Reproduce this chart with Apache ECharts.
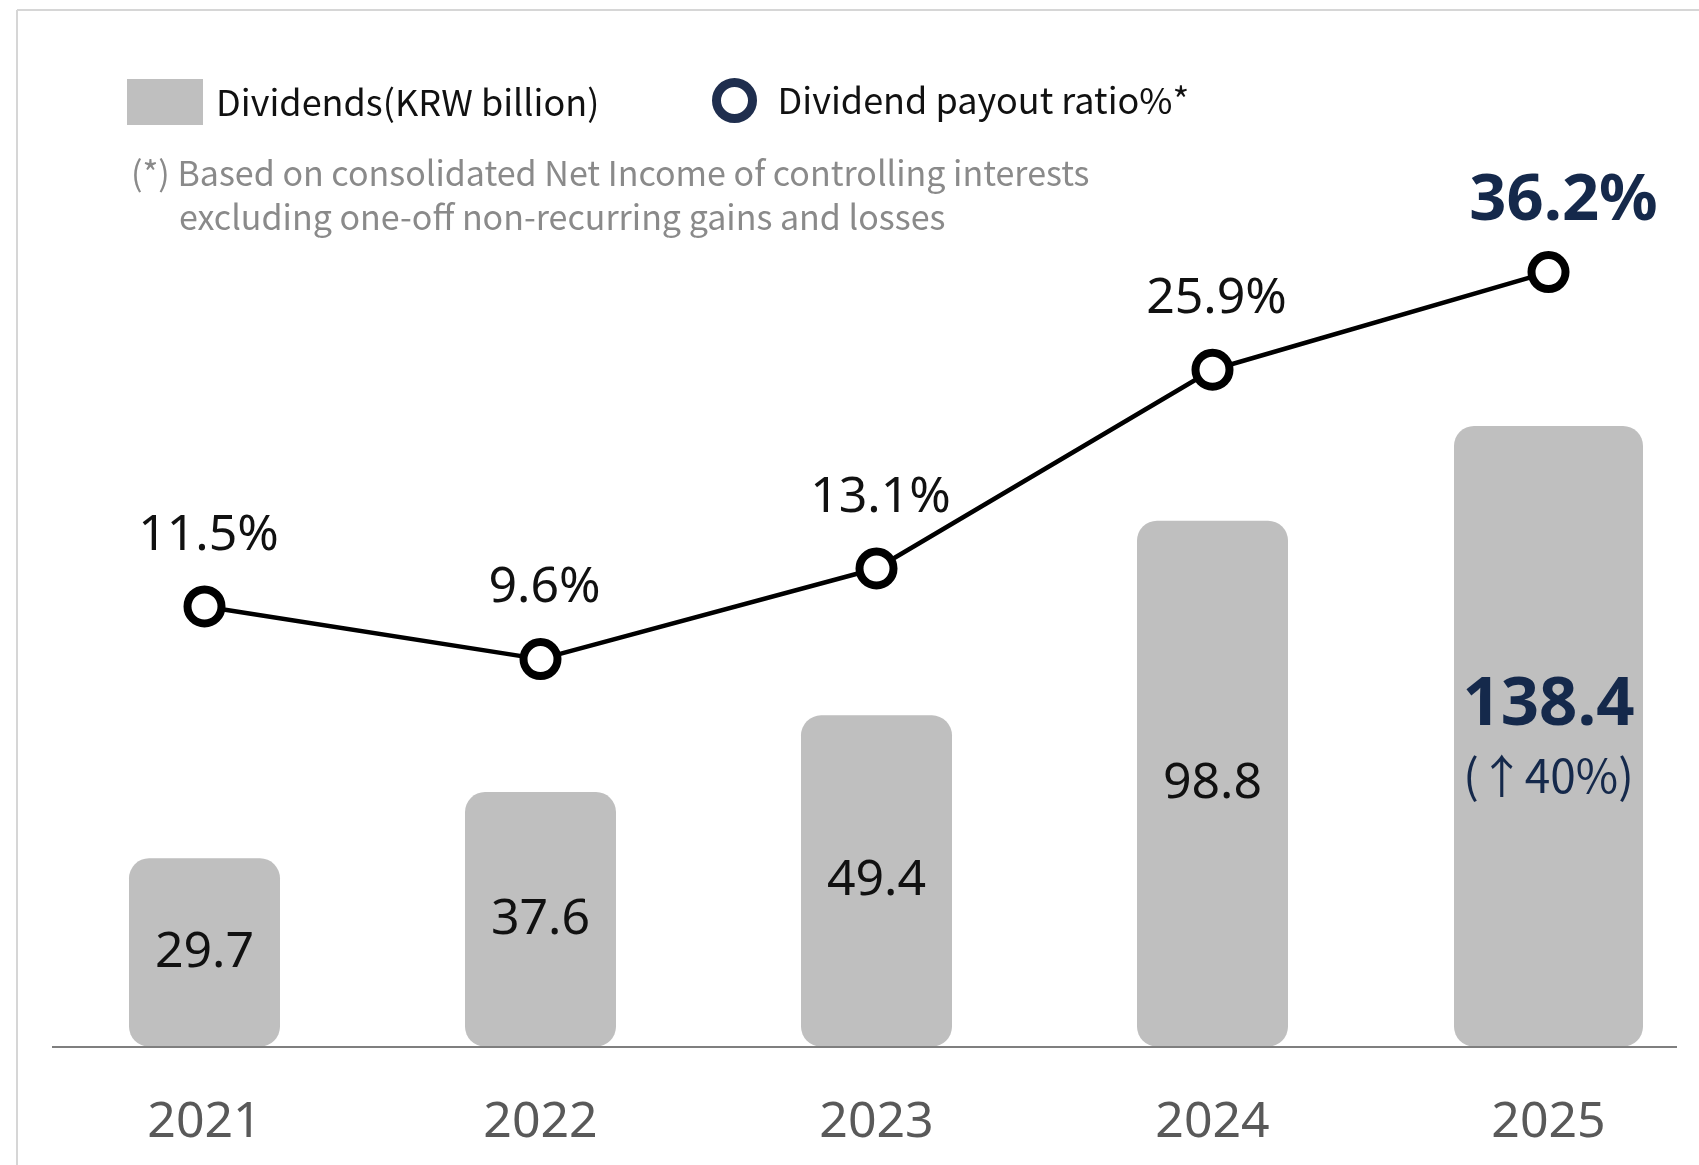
<!DOCTYPE html>
<html>
<head>
<meta charset="utf-8">
<script src="https://cdn.jsdelivr.net/npm/echarts@6/dist/echarts.min.js"></script>
<style>
html,body{margin:0;padding:0;background:#fff;}
#c{width:1699px;height:1165px;}
</style>
</head>
<body>
<div id="c"></div>
<script>
// ---- data ----
const years = ['2021', '2022', '2023', '2024', '2025'];
const dividends = [29.7, 37.6, 49.4, 98.8, 138.4];
const payoutRatio = [11.5, 9.6, 13.1, 25.9, 36.2];
const latestGrowth = '↑40%';
const legendNames = ['Dividends(KRW billion)', 'Dividend payout ratio%*'];
const footnote = [
  '(*) Based on consolidated Net Income of controlling interests',
  'excluding one-off non-recurring gains and losses'
];

// ---- styling ----
const last = years.length - 1;
const NAVY = '#15294b';
const BAR = '#bfbfbf';
const NUM_FONT = '"Noto Sans", sans-serif';
const TXT_FONT = '"Noto Sans CJK KR", "Noto Sans", sans-serif';

const chart = echarts.init(document.getElementById('c'), null, { renderer: 'canvas' });

const option = {
  backgroundColor: '#ffffff',
  animation: false,
  title: [
    { text: footnote[0], left: 131, top: 156, padding: 0,
      textStyle: { fontFamily: TXT_FONT, fontSize: 34, fontWeight: 'normal', color: '#8a8a8a' } },
    { text: footnote[1], left: 179, top: 200, padding: 0,
      textStyle: { fontFamily: TXT_FONT, fontSize: 34, fontWeight: 'normal', color: '#8a8a8a' } }
  ],
  legend: [
    { selectedMode: false, left: 127, top: 79, padding: 0, itemWidth: 76, itemHeight: 46,
      data: [{ name: legendNames[0], icon: 'rect', itemStyle: { color: BAR, borderWidth: 0 } }],
      textStyle: { fontFamily: TXT_FONT, fontSize: 36, color: '#111', padding: [0, 0, 0, 8] } },
    { selectedMode: false, left: 712, top: 78, padding: 0, itemWidth: 36, itemHeight: 36,
      data: [{ name: legendNames[1], icon: 'circle',
               itemStyle: { color: '#fff', borderColor: '#1f2e4e', borderWidth: 9 } }],
      textStyle: { fontFamily: TXT_FONT, fontSize: 36, color: '#111', padding: [0, 0, 0, 20] } }
  ],
  grid: { left: 36.5, right: -17.5, top: 150, bottom: 118.5, outerBoundsMode: 'none' },
  xAxis: [
    { type: 'category', data: years, axisLine: { show: false }, axisTick: { show: false },
      splitLine: { show: false },
      axisLabel: { fontFamily: NUM_FONT, fontSize: 50, color: '#595959', margin: 51 } },
    { type: 'category', data: years, show: false, gridIndex: 0 }
  ],
  yAxis: [
    { type: 'log', logBase: 10, min: 15.2, max: 369.6, startValue: 15.2, show: false,
      splitLine: { show: false } },
    { type: 'log', logBase: 10, min: 2.5425, max: 55.03, show: false,
      splitLine: { show: false } }
  ],
  graphic: [
    { type: 'line', silent: true, shape: { x1: 17, y1: 10, x2: 1699, y2: 10 },
      style: { stroke: '#d6d6d6', lineWidth: 2 } },
    { type: 'line', silent: true, shape: { x1: 17, y1: 10, x2: 17, y2: 1165 },
      style: { stroke: '#d6d6d6', lineWidth: 2 } },
    { type: 'line', silent: true, z: 100, shape: { x1: 52, y1: 1047, x2: 1677, y2: 1047 },
      style: { stroke: '#7f7f7f', lineWidth: 2 } }
  ],
  series: [
    { name: legendNames[0], type: 'bar', xAxisIndex: 0, yAxisIndex: 0, barWidth: 151,
      data: dividends.map((v, i) => (i < last ? v : '-')),
      itemStyle: { color: BAR, borderRadius: 20 },
      label: { show: true, position: 'inside', fontFamily: NUM_FONT, fontSize: 50, color: '#111' },
      z: 2 },
    { name: legendNames[0], type: 'bar', xAxisIndex: 1, yAxisIndex: 0, barWidth: 189,
      data: dividends.map((v, i) => (i === last ? v : '-')),
      itemStyle: { color: BAR, borderRadius: 20 },
      label: {
        show: true, position: 'inside', offset: [0, 6],
        formatter: p => '{v|' + p.value + '}\n{g|(' + latestGrowth + ')}',
        rich: {
          v: { fontFamily: NUM_FONT, fontSize: 67, fontWeight: 'bold', color: NAVY, lineHeight: 66, align: 'center' },
          g: { fontFamily: '"Noto Sans CJK KR", "Noto Sans", sans-serif', fontSize: 46, color: NAVY, lineHeight: 72, align: 'center' }
        }
      },
      z: 2 },
    { name: legendNames[1], type: 'line', xAxisIndex: 0, yAxisIndex: 1,
      data: payoutRatio.map((v, i) => (i === last
        ? { value: v, label: { fontSize: 65, fontWeight: 'bold', color: NAVY, distance: 17, offset: [15, 0] } }
        : v)),
      symbol: 'circle', symbolSize: 34,
      itemStyle: { color: '#fff', borderColor: '#000', borderWidth: 8 },
      lineStyle: { color: '#000', width: 4.5 },
      label: { show: true, position: 'top', distance: 25, offset: [4, 0],
               fontFamily: NUM_FONT, fontSize: 50, color: '#111', formatter: '{c}%' },
      z: 5 }
  ]
};

chart.setOption(option);
</script>
</body>
</html>
